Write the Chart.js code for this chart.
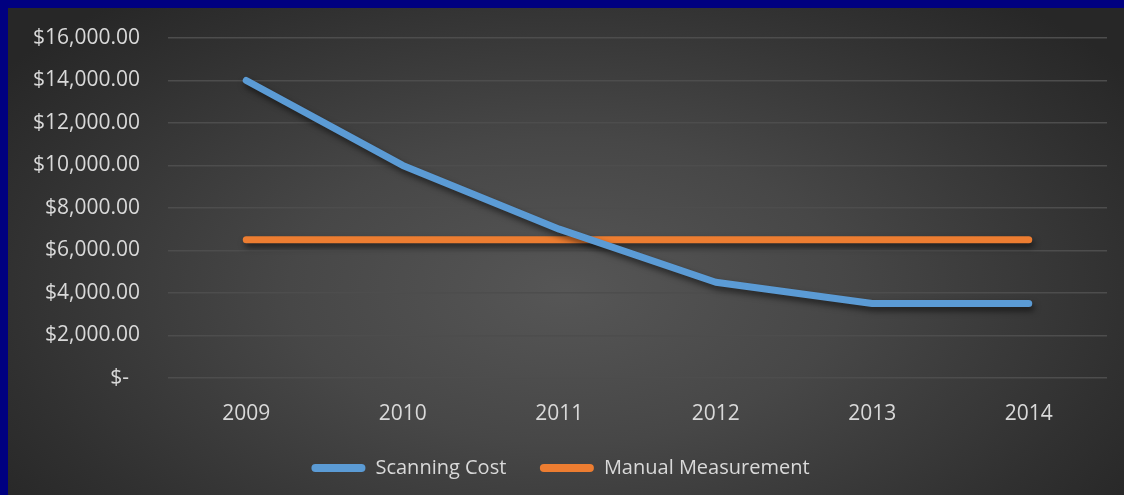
<!DOCTYPE html>
<html><head><meta charset="utf-8">
<script src="https://cdn.jsdelivr.net/npm/chart.js@4.4.1/dist/chart.umd.min.js"></script>
<style>
html,body{margin:0;padding:0;background:#000080;}
#wrap{position:absolute;left:8px;top:8px;width:1116px;height:487px;
background:radial-gradient(ellipse 62% 78% at 50% 58%, #565656 0%, #474747 40%, #303030 82%, #272727 100%);}
canvas{display:block;}
</style></head><body>
<div id="wrap"><canvas id="c" width="1116" height="487"></canvas></div>
<script>
const categories = ["2009","2010","2011","2012","2013","2014"];
const scanningCost = [14000,10000,7000,4500,3500,3500];
const manualMeasurement = [6500,6500,6500,6500,6500,6500];
const yTicks = [0,2000,4000,6000,8000,10000,12000,14000,16000];

const FONT = "'Open Sans', sans-serif";
const shadowPlugin = {
  id:'shadow',
  beforeInit(chart){
    const lg=chart.legend; if(!lg) return;
    const d=lg.draw.bind(lg);
    lg.draw=function(){const c=this.ctx;c.save();c.translate(3,-3);d();c.restore();};
  },
  beforeDatasetsDraw(chart){const c=chart.ctx;c.save();c.shadowColor='rgba(0,0,0,0.55)';c.shadowBlur=6;c.shadowOffsetX=2;c.shadowOffsetY=4;},
  afterDatasetsDraw(chart){chart.ctx.restore();}
};
function fmt(v){
  if(v===0) return "$-  ";
  return "$"+v.toLocaleString('en-US',{minimumFractionDigits:2,maximumFractionDigits:2});
}
new Chart(document.getElementById('c'),{
  type:'line',
  data:{labels:categories,datasets:[
    {label:'Scanning Cost',data:scanningCost,borderColor:'#5b9bd5',backgroundColor:'#5b9bd5',borderWidth:7,borderCapStyle:'round',borderJoinStyle:'round',pointRadius:0,tension:0},
    {label:'Manual Measurement',data:manualMeasurement,borderColor:'#ed7d31',backgroundColor:'#ed7d31',borderWidth:7,borderCapStyle:'round',borderJoinStyle:'round',pointRadius:0,tension:0}
  ]},
  options:{
    responsive:false,animation:false,
    layout:{padding:{top:0,right:17,left:0,bottom:4}},
    plugins:{
      tooltip:{enabled:false},
      legend:{position:'bottom',labels:{color:'#d9d9d9',font:{family:FONT,size:20},boxWidth:54,boxHeight:8,useBorderRadius:true,borderRadius:4,padding:18,
        generateLabels(chart){return Chart.defaults.plugins.legend.labels.generateLabels(chart).map((l,i)=>Object.assign(l,{lineWidth:0,text:i===0?l.text+'   ':l.text}));}}}
    },
    scales:{
      x:{offset:true,grid:{display:false},border:{display:false},
        ticks:{color:'#d9d9d9',font:{family:FONT,size:21},padding:16}},
      y:{min:0,max:16000,afterBuildTicks(a){a.ticks=yTicks.map(v=>({value:v}));},
        afterFit(a){a.width=160;a.paddingTop=30;a.paddingBottom=10;},
        grid:{color:'#4d4d4d',lineWidth:1.5,drawTicks:false},border:{display:false},
        ticks:{color:'#d9d9d9',font:{family:FONT,size:21},padding:28,callback:fmt}}
    }
  },
  plugins:[shadowPlugin]
});
</script></body></html>
